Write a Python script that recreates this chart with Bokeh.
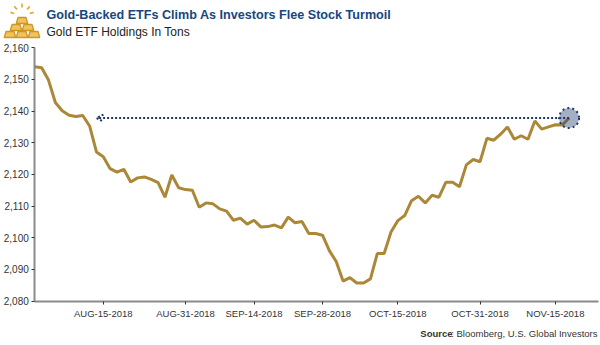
import math
import pandas as pd
from bokeh.plotting import figure
from bokeh.models import Range1d, FixedTicker, NumeralTickFormatter, Arrow, OpenHead
from bokeh.embed import file_html
from bokeh.resources import INLINE
from bokeh.core.properties import value

# ---------------- data ----------------
dates = [d.strftime("%Y-%m-%d") for d in pd.bdate_range("2018-08-01", "2018-11-19")]
holdings = [2154.0, 2153.7, 2149.8, 2142.7, 2140.1, 2138.7, 2138.3, 2138.6, 2135.3, 2127.1,
            2125.6, 2121.8, 2120.7, 2121.6, 2117.6, 2118.9, 2119.2, 2118.4, 2117.4, 2112.8,
            2119.8, 2115.8, 2115.2, 2115.0, 2109.6, 2111.0, 2110.7, 2109.1, 2108.4, 2105.5,
            2106.2, 2104.3, 2105.5, 2103.4, 2103.5, 2104.0, 2103.1, 2106.5, 2104.7, 2105.1,
            2101.3, 2101.3, 2100.8, 2095.9, 2092.5, 2086.3, 2087.4, 2085.7, 2085.7, 2087.0,
            2095.0, 2095.0, 2101.8, 2105.4, 2107.0, 2111.7, 2113.1, 2111.0, 2113.4, 2112.8,
            2117.5, 2117.5, 2116.1, 2123.0, 2124.7, 2124.0, 2131.4, 2130.8, 2132.7, 2135.0,
            2131.1, 2132.2, 2131.1, 2136.9, 2134.3, 2135.0, 2135.7, 2135.6, 2137.8]
tick_dates = ["2018-08-15", "2018-08-31", "2018-09-14", "2018-09-28",
              "2018-10-15", "2018-10-31", "2018-11-15"]
tick_labels = ["AUG-15-2018", "AUG-31-2018", "SEP-14-2018", "SEP-28-2018",
               "OCT-15-2018", "OCT-31-2018", "NOV-15-2018"]
y_ticks = [2080, 2090, 2100, 2110, 2120, 2130, 2140, 2150, 2160]
arrow_tip_date = "2018-08-14"

title_text = "Gold-Backed ETFs Climb As Investors Flee Stock Turmoil"
subtitle_text = "Gold ETF Holdings In Tons"
source_bold = "Source"
source_rest = ": Bloomberg, U.S. Global Investors"

GOLD = "#ab8838"
NAVY = "#1c3766"
FONT = "Liberation Sans"

idx = list(range(len(dates)))
ticks = [dates.index(d) for d in tick_dates]
last_i = idx[-1]
last_v = holdings[-1]
tip_i = dates.index(arrow_tip_date)

# ---------------- page geometry ----------------
W, H = 600, 345
X0_PX, PX_PER_DAY, X_END_PX = 34.3, 6.85, 598      # where index 0 sits, spacing, axis end
Y_TOP_PX, Y_BOT_PX = 47.3, 300.5                   # where 2160 and 2080 sit
y_lo, y_hi = y_ticks[0], y_ticks[-1]
ppu = (Y_BOT_PX - Y_TOP_PX) / (y_hi - y_lo)

x_range = Range1d(-X0_PX / PX_PER_DAY, (W - X0_PX) / PX_PER_DAY)
y_range = Range1d(y_lo - (H - Y_BOT_PX) / ppu, y_hi + Y_TOP_PX / ppu)

p = figure(width=W, height=H, x_range=x_range, y_range=y_range,
           output_backend="svg", toolbar_location=None, min_border=0)
p.grid.visible = False
p.outline_line_color = None
p.extra_x_ranges = {"px": Range1d(0, W)}
p.extra_y_ranges = {"px": Range1d(H, 0)}

p.xaxis.fixed_location = y_lo
p.yaxis.fixed_location = 0
p.xaxis.bounds = (0, (X_END_PX - X0_PX) / PX_PER_DAY)
p.yaxis.bounds = (y_lo, y_hi)
p.xaxis.ticker = FixedTicker(ticks=ticks)
p.xaxis.major_label_overrides = {t: lab for t, lab in zip(ticks, tick_labels)}
p.yaxis.ticker = FixedTicker(ticks=y_ticks)
p.yaxis.formatter = NumeralTickFormatter(format="0,0")
for ax in (p.xaxis, p.yaxis):
    ax.axis_line_color = "#8a8a8a"
    ax.axis_line_width = 2
    ax.major_tick_line_color = "#333333"
    ax.major_tick_in = 0
    ax.major_tick_out = 3
    ax.minor_tick_line_color = None
    ax.major_label_text_font = FONT
    ax.major_label_text_color = "#333333"
p.xaxis.major_label_text_font_size = "9.5px"
p.xaxis.major_label_standoff = 4
p.yaxis.major_label_text_font_size = "10px"
p.yaxis.major_label_standoff = 3

p.line(idx, holdings, line_color=GOLD, line_width=3)

p.add_layout(Arrow(end=OpenHead(size=7, line_color=NAVY, line_width=2, line_dash="2 2"),
                   x_start=last_i, y_start=last_v, x_end=tip_i, y_end=last_v,
                   line_color=NAVY, line_width=2, line_dash="2 2"))
p.scatter([last_i], [last_v], size=20, fill_color=NAVY, fill_alpha=0.4,
          line_color=NAVY, line_width=2, line_dash="2 3")

# ---------------- header: gold bar icon (page pixel coords) ----------------
def trap(cx, yb, wb, wt, ht):
    return [cx - wb / 2, cx + wb / 2, cx + wt / 2, cx - wt / 2], [yb, yb, yb - ht, yb - ht]

bars = [trap(cx, yb, 11.5, 8, 6) for cx, yb in
        [(9.5, 37), (21.5, 37), (33.5, 37), (15.5, 30), (27.5, 30), (21.5, 23)]]
p.patches([b[0] for b in bars], [b[1] for b in bars], fill_color="#f1c35c",
          line_color="#cf9626", line_width=1.3, x_range_name="px", y_range_name="px")
rx, ry = [], []
for a in [165, 130, 90, 50, 15]:
    r = math.radians(a)
    rx.append([21.5 + 8 * math.cos(r), 21.5 + 12 * math.cos(r)])
    ry.append([15 - 8 * math.sin(r), 15 - 12 * math.sin(r)])
p.multi_line(rx, ry, line_color="#e0a82e", line_width=1.6, x_range_name="px", y_range_name="px")

# ---------------- header / footer texts ----------------
p.text(x=[46], y=[14], text=[title_text], text_font=value(FONT), text_font_style="bold",
       text_font_size=value("12.6px"), text_color="#17477d", text_baseline="middle",
       x_range_name="px", y_range_name="px")
p.text(x=[46], y=[31], text=[subtitle_text], text_font=value(FONT),
       text_font_size=value("12px"), text_color="#222222", text_baseline="middle",
       x_range_name="px", y_range_name="px")
p.text(x=[597], y=[333], text=[source_rest], text_font=value(FONT),
       text_font_size=value("9.5px"), text_color="#333333", text_baseline="middle",
       text_align="right", x_range_name="px", y_range_name="px")
p.text(x=[452], y=[333], text=[source_bold], text_font=value(FONT), text_font_style="bold",
       text_font_size=value("9.5px"), text_color="#333333", text_baseline="middle",
       text_align="right", x_range_name="px", y_range_name="px")

open("out.html", "w").write(file_html(p, INLINE))
